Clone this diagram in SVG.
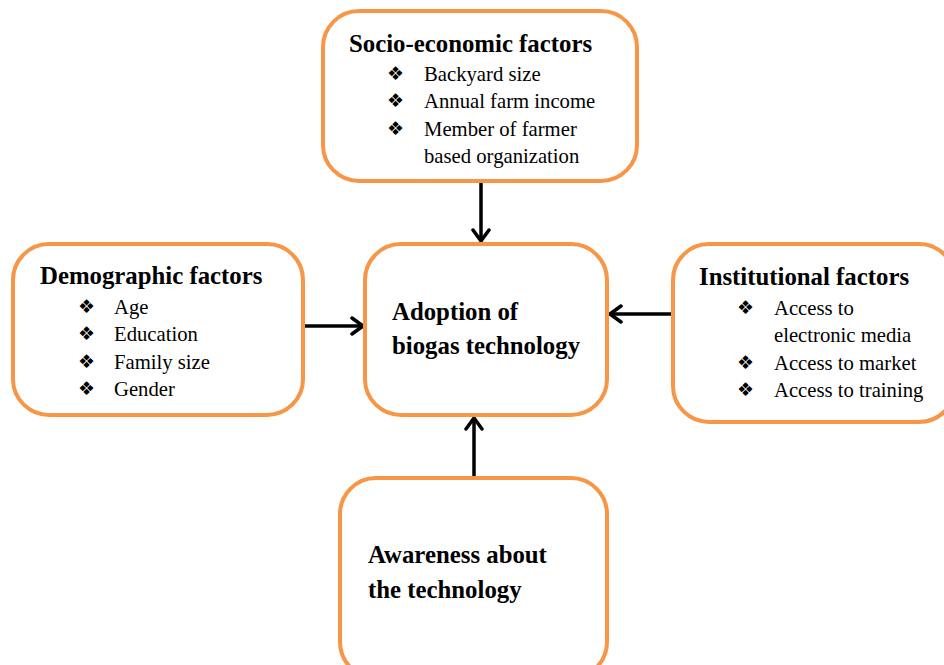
<svg xmlns="http://www.w3.org/2000/svg" width="944" height="665" viewBox="0 0 944 665">
<defs>
<style>
.box{fill:#fff;stroke:#F79646;stroke-width:4}
.t{font-family:"Liberation Serif","Times New Roman",serif;font-weight:bold;font-size:24.8px;fill:#000}
.b{font-family:"Liberation Serif","Times New Roman",serif;font-size:20.7px;fill:#000}
.d{font-family:"DejaVu Sans",sans-serif;font-size:19px;fill:#000}
.c{stroke:#000;stroke-width:3.5;fill:none;marker-end:url(#ah)}
</style>
<marker id="ah" viewBox="0 0 16 20" refX="13" refY="10" markerWidth="16" markerHeight="20" markerUnits="userSpaceOnUse" orient="auto">
<path d="M2,2 L13,10 L2,18" fill="none" stroke="#000" stroke-width="3.5" stroke-linecap="round" stroke-linejoin="round"/>
</marker>
</defs>
<rect width="944" height="665" fill="#fff"/>
<g id="connectors">
<line class="c" x1="481" y1="182" x2="481" y2="241"/>
<line class="c" x1="305" y1="326" x2="363" y2="326"/>
<line class="c" x1="672" y1="314" x2="610" y2="314"/>
<line class="c" x1="474" y1="477" x2="474" y2="418"/>
</g>
<g id="socio">
<rect class="box" x="323" y="11" width="314" height="170" rx="36"/>
<text class="t" x="349" y="52">Socio-economic factors</text>
<text class="d" x="387" y="80">❖</text>
<text class="d" x="387" y="107">❖</text>
<text class="d" x="387" y="135">❖</text>
<text class="b" x="424" y="81">Backyard size</text>
<text class="b" x="424" y="108">Annual farm income</text>
<text class="b" x="424" y="136">Member of farmer</text>
<text class="b" x="424" y="163">based organization</text>
</g>
<g id="demographic">
<rect class="box" x="13" y="244" width="290" height="171" rx="36"/>
<text class="t" x="40" y="284">Demographic factors</text>
<text class="d" x="78" y="313">❖</text>
<text class="d" x="78" y="340">❖</text>
<text class="d" x="78" y="368">❖</text>
<text class="d" x="78" y="395">❖</text>
<text class="b" x="114" y="314">Age</text>
<text class="b" x="114" y="341">Education</text>
<text class="b" x="114" y="369">Family size</text>
<text class="b" x="114" y="396">Gender</text>
</g>
<g id="adoption">
<rect class="box" x="365" y="244" width="242" height="171" rx="36"/>
<text class="t" x="392" y="320">Adoption of</text>
<text class="t" x="392" y="354">biogas technology</text>
</g>
<g id="institutional">
<rect class="box" x="673" y="244" width="282" height="178" rx="36"/>
<text class="t" x="699" y="285">Institutional factors</text>
<text class="d" x="737" y="314">❖</text>
<text class="d" x="737" y="369">❖</text>
<text class="d" x="737" y="396">❖</text>
<text class="b" x="774" y="315">Access to</text>
<text class="b" x="774" y="342">electronic media</text>
<text class="b" x="774" y="370">Access to market</text>
<text class="b" x="774" y="397">Access to training</text>
</g>
<g id="awareness">
<rect class="box" x="340" y="478" width="267" height="200" rx="36"/>
<text class="t" x="368" y="563">Awareness about</text>
<text class="t" x="368" y="598">the technology</text>
</g>
</svg>
